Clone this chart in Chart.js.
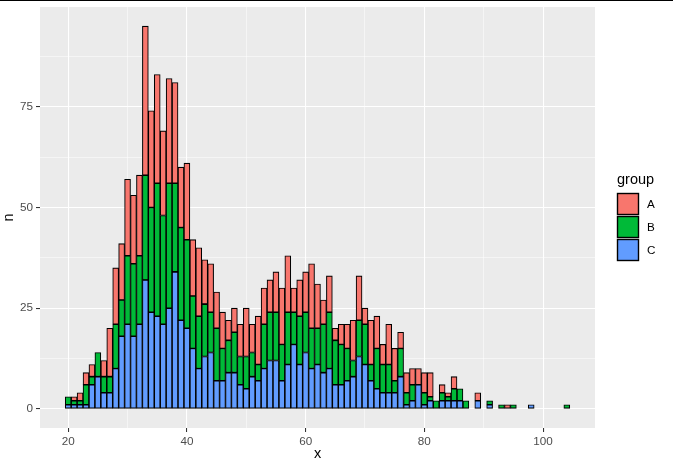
<!DOCTYPE html>
<html>
<head>
<meta charset="utf-8">
<script src="https://cdn.jsdelivr.net/npm/chart.js@4"></script>
<style>
  html, body { margin: 0; padding: 0; background: #fff; }
  #wrap { position: relative; width: 673px; height: 468px; }
  #topline { position: absolute; left: 0; top: 0; width: 673px; height: 1px; background: #000; }
</style>
</head>
<body>
<div id="wrap">
  <canvas id="myChart" width="673" height="468"></canvas>
  <div id="topline"></div>
</div>
<script>
const xs = [
  20, 21, 22, 23, 24, 25, 26, 27, 28, 29,
  30, 31, 32, 33, 34, 35, 36, 37, 38, 39,
  40, 41, 42, 43, 44, 45, 46, 47, 48, 49,
  50, 51, 52, 53, 54, 55, 56, 57, 58, 59,
  60, 61, 62, 63, 64, 65, 66, 67, 68, 69,
  70, 71, 72, 73, 74, 75, 76, 77, 78, 79,
  80, 81, 82, 83, 84, 85, 86, 87,
  89, 91, 93, 94, 95, 98, 104
];

const countsA = [
  0, 1, 2, 3, 3, 0, 4, 12, 14, 14,
  19, 17, 20, 37, 24, 27, 21, 26, 25, 15,
  19, 14, 17, 11, 12, 9, 9, 5, 6, 8,
  12, 7, 12, 9, 8, 10, 14, 14, 6, 9,
  10, 16, 11, 6, 9, 3, 5, 6, 10, 11,
  4, 11, 8, 5, 10, 8, 4, 5, 4, 4,
  5, 6, 0, 2, 1, 3, 0, 0,
  2, 0, 0, 1, 0, 0, 0
];

const countsB = [
  2, 1, 1, 5, 2, 6, 4, 4, 11, 9,
  17, 18, 17, 26, 26, 33, 27, 31, 22, 23,
  22, 13, 13, 13, 10, 13, 8, 8, 10, 7,
  8, 6, 4, 11, 12, 12, 9, 13, 8, 12,
  10, 10, 9, 12, 14, 11, 10, 8, 4, 9,
  10, 4, 10, 7, 7, 3, 7, 3, 4, 0,
  3, 1, 2, 2, 1, 3, 3, 2,
  0, 1, 1, 0, 1, 0, 1
];

const countsC = [
  1, 1, 1, 1, 6, 8, 4, 4, 10, 18,
  21, 18, 21, 32, 24, 23, 21, 25, 34, 22,
  20, 15, 10, 13, 14, 7, 7, 9, 9, 6,
  5, 8, 7, 10, 12, 12, 7, 11, 16, 11,
  14, 10, 11, 9, 10, 6, 6, 7, 8, 13,
  11, 7, 5, 4, 4, 4, 8, 1, 2, 6,
  1, 2, 0, 2, 2, 2, 2, 0,
  2, 1, 0, 0, 0, 1, 0
];

const groups = ['A', 'B', 'C'];
const groupColors = ['#F8766D', '#00BA38', '#619CFF'];

const xTicks = [20, 30, 40, 50, 60, 70, 80, 90, 100];
const yTicks = [0, 12.5, 25, 37.5, 50, 62.5, 75, 87.5];

const FONT = '"Liberation Sans", Arial, sans-serif';
Chart.defaults.font.family = FONT;

function toPoints(counts) {
  return xs.map((x, i) => ({ x: x, y: counts[i] })).filter(p => p.y > 0);
}

// C sits at the bottom of each stack, A on top
const seriesByGroup = { A: countsA, B: countsB, C: countsC };
const datasets = ['C', 'B', 'A'].map(g => ({
  label: g,
  data: toPoints(seriesByGroup[g]),
  backgroundColor: groupColors[groups.indexOf(g)],
  borderColor: '#000',
  borderWidth: 1.1,
  borderSkipped: false,
  barPercentage: 1,
  categoryPercentage: 1
}));

const panelBg = {
  id: 'panelBg',
  beforeDraw(chart) {
    const { ctx, chartArea: a } = chart;
    ctx.save();
    ctx.fillStyle = '#EBEBEB';
    ctx.fillRect(a.left, a.top, a.right - a.left, a.bottom - a.top);
    ctx.restore();
  }
};

const sideLegend = {
  id: 'sideLegend',
  afterDraw(chart) {
    const ctx = chart.ctx;
    ctx.save();
    ctx.fillStyle = '#000';
    ctx.font = '14.5px ' + FONT;
    ctx.textBaseline = 'alphabetic';
    ctx.fillText('group', 617, 184);
    groups.forEach((g, i) => {
      const y = 193.5 + i * 23;
      ctx.fillStyle = groupColors[i];
      ctx.fillRect(617.5, y, 21, 21);
      ctx.lineWidth = 1.4;
      ctx.strokeStyle = '#000';
      ctx.strokeRect(617.5, y, 21, 21);
      ctx.fillStyle = '#000';
      ctx.font = '11.7px ' + FONT;
      ctx.textBaseline = 'middle';
      ctx.fillText(g, 647, y + 11);
    });
    ctx.restore();
  }
};

function gridFor(step) {
  const major = c => c.tick && c.tick.value % step === 0;
  return {
    color: '#FFFFFF',
    lineWidth: c => major(c) ? 1.07 : 0.53,
    tickColor: c => major(c) ? '#333333' : 'rgba(0,0,0,0)',
    tickWidth: 1.07,
    tickLength: 4,
    offset: false
  };
}

const config = {
  type: 'bar',
  data: { datasets },
  options: {
    responsive: false,
    animation: false,
    layout: { padding: { top: 7, right: 78, bottom: 0, left: 0 } },
    plugins: { legend: { display: false }, tooltip: { enabled: false } },
    scales: {
      x: {
        type: 'linear',
        stacked: true,
        offset: false,
        min: 15.25,
        max: 108.75,
        afterBuildTicks: scale => { scale.ticks = xTicks.map(v => ({ value: v })); },
        afterFit: scale => {
          scale.height = 40;
          scale.paddingLeft = 0;
          scale.paddingRight = 0;
        },
        grid: gridFor(20),
        border: { display: false },
        ticks: {
          autoSkip: false,
          maxRotation: 0,
          padding: 3,
          color: '#4D4D4D',
          font: { size: 11.7 },
          callback: v => v % 20 === 0 ? String(v) : ''
        },
        title: {
          display: true,
          text: 'x',
          color: '#000',
          font: { size: 14.5 },
          padding: { top: 0, bottom: 5 }
        }
      },
      y: {
        stacked: true,
        min: -4.75,
        max: 99.75,
        afterBuildTicks: scale => { scale.ticks = yTicks.map(v => ({ value: v })); },
        afterFit: scale => {
          scale.width = 40;
          scale.paddingTop = 0;
          scale.paddingBottom = 0;
        },
        grid: gridFor(25),
        border: { display: false },
        ticks: {
          autoSkip: false,
          padding: 3,
          color: '#4D4D4D',
          font: { size: 11.7 },
          callback: v => v % 25 === 0 ? String(v) : ''
        },
        title: {
          display: true,
          text: 'n',
          color: '#000',
          font: { size: 14.5 },
          padding: { top: 0, bottom: 0 }
        }
      }
    }
  },
  plugins: [panelBg, sideLegend]
};

const myChart = new Chart(document.getElementById('myChart').getContext('2d'), config);
</script>
</body>
</html>
